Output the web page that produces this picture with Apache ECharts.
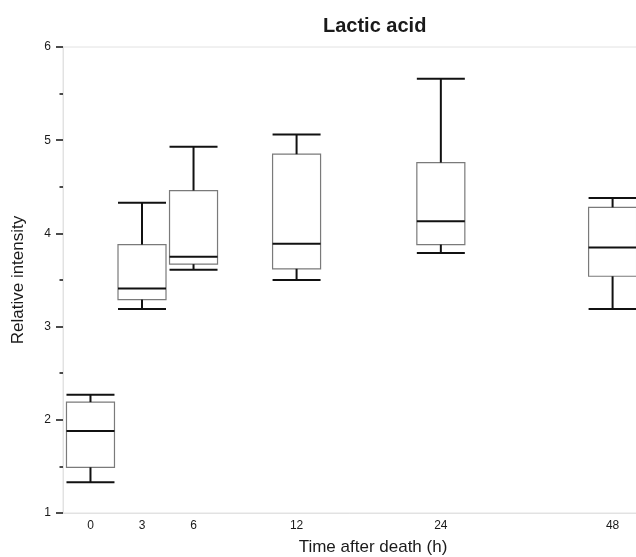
<!DOCTYPE html>
<html>
<head>
<meta charset="utf-8">
<title>Lactic acid</title>
<script src="https://cdn.jsdelivr.net/npm/echarts@6/dist/echarts.min.js"></script>
<style>
  html, body { margin: 0; padding: 0; background: #fff; }
  #main { width: 636px; height: 557px; }
</style>
</head>
<body>
<div id="main"></div>
<script>
// time points (h) and where they sit on the compressed time axis
var timeLabels = ['0', '3', '6', '12', '24', '48'];
var axisPos = [0, 3, 6, 12, 20.4, 30.4];

// box statistics per time point
var whiskerLow  = [1.33, 3.19, 3.61, 3.50, 3.79, 3.19];
var q1          = [1.49, 3.29, 3.67, 3.62, 3.88, 3.54];
var median      = [1.88, 3.41, 3.75, 3.89, 4.13, 3.85];
var q3          = [2.19, 3.88, 4.46, 4.85, 4.76, 4.28];
var whiskerHigh = [2.27, 4.33, 4.93, 5.06, 5.66, 4.38];

var boxData = [];
for (var i = 0; i < timeLabels.length; i++) {
    boxData.push([axisPos[i], whiskerLow[i], q1[i], median[i], q3[i], whiskerHigh[i]]);
}

var FONT = '"Liberation Sans", Arial, Helvetica, sans-serif';

function renderBox(params, api) {
    var x = api.value(0);
    var pLow = api.coord([x, api.value(1)]);
    var pQ1 = api.coord([x, api.value(2)]);
    var pMed = api.coord([x, api.value(3)]);
    var pQ3 = api.coord([x, api.value(4)]);
    var pHigh = api.coord([x, api.value(5)]);
    var half = 24;
    var cx = pMed[0];
    var black = { stroke: '#111', lineWidth: 2 };
    return {
        type: 'group',
        children: [
            { type: 'rect', shape: { x: cx - half, y: pQ3[1], width: half * 2, height: pQ1[1] - pQ3[1] },
              style: { fill: '#fff', stroke: '#7a7a7a', lineWidth: 1.2 } },
            { type: 'line', shape: { x1: cx, y1: pQ3[1], x2: cx, y2: pHigh[1] }, style: black },
            { type: 'line', shape: { x1: cx, y1: pQ1[1], x2: cx, y2: pLow[1] }, style: black },
            { type: 'line', shape: { x1: cx - half, y1: pHigh[1], x2: cx + half, y2: pHigh[1] }, style: black },
            { type: 'line', shape: { x1: cx - half, y1: pLow[1], x2: cx + half, y2: pLow[1] }, style: black },
            { type: 'line', shape: { x1: cx - half, y1: pMed[1], x2: cx + half, y2: pMed[1] }, style: black }
        ]
    };
}

var chart = echarts.init(document.getElementById('main'));
var option = {
    backgroundColor: '#fff',
    animation: false,
    title: {
        text: 'Lactic acid',
        left: 318,
        top: 11,
        textStyle: { fontFamily: FONT, fontSize: 20, fontWeight: 'bold', color: '#1a1a1a' }
    },
    grid: {
        left: 63, top: 47, width: 620, bottom: 44,
        outerBoundsMode: 'none',
        containLabel: false,
        show: true, borderColor: '#e2e2e2', borderWidth: 1, backgroundColor: 'transparent'
    },
    xAxis: {
        type: 'value',
        min: -1.6,
        max: 34.5,
        name: 'Time after death (h)',
        nameLocation: 'middle',
        nameGap: 26,
        nameTextStyle: { fontFamily: FONT, fontSize: 17, color: '#1a1a1a' },
        axisLine: { show: true, onZero: false, lineStyle: { color: '#e2e2e2', width: 1 } },
        axisTick: { show: false },
        splitLine: { show: false },
        axisLabel: {
            customValues: axisPos,
            margin: 7,
            fontFamily: FONT, fontSize: 12, color: '#1a1a1a',
            formatter: function (v) {
                var k = axisPos.indexOf(v);
                return k >= 0 ? timeLabels[k] : '';
            }
        }
    },
    yAxis: {
        type: 'value',
        min: 1,
        max: 6,
        interval: 1,
        name: 'Relative intensity',
        nameLocation: 'middle',
        nameGap: 36,
        nameTextStyle: { fontFamily: FONT, fontSize: 17, color: '#1a1a1a' },
        axisLine: { show: true, onZero: false, lineStyle: { color: '#e2e2e2', width: 1 } },
        axisTick: { show: true, length: 7, lineStyle: { color: '#111', width: 1.5 } },
        minorTick: { show: true, splitNumber: 2, length: 3.5, lineStyle: { color: '#111', width: 1.5 } },
        splitLine: { show: false },
        minorSplitLine: { show: false },
        axisLabel: { margin: 12, fontFamily: FONT, fontSize: 12, color: '#1a1a1a' }
    },
    series: [{
        type: 'custom',
        renderItem: renderBox,
        encode: { x: 0, y: [1, 2, 3, 4, 5] },
        data: boxData,
        clip: false
    }]
};
chart.setOption(option);
</script>
</body>
</html>
